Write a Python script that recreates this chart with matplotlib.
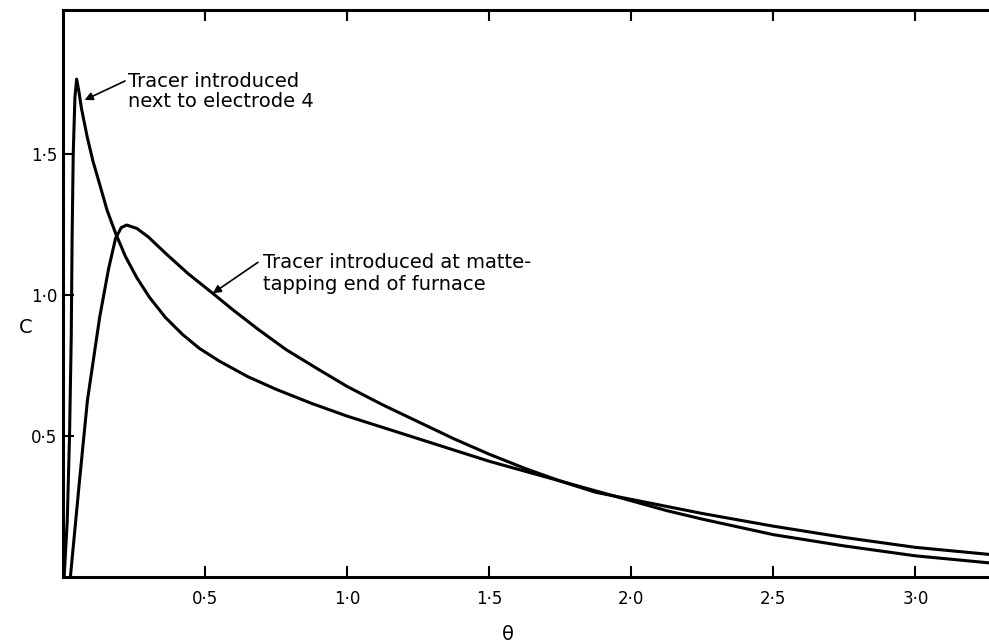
import matplotlib
matplotlib.use("Agg")
import matplotlib.pyplot as plt

# Curve: tracer introduced next to electrode 4
theta_e4 = [0.004, 0.015, 0.023, 0.029, 0.032, 0.036, 0.042, 0.048, 0.056, 0.065,
            0.085, 0.105, 0.128, 0.155, 0.185, 0.22, 0.26, 0.305, 0.36, 0.42,
            0.48, 0.55, 0.65, 0.75, 0.875, 1.0, 1.125, 1.25, 1.375, 1.5, 1.625,
            1.75, 1.875, 2.0, 2.125, 2.25, 2.5, 2.75, 3.0, 3.26]
c_e4 = [0.0, 0.20, 0.50, 0.85, 1.20, 1.50, 1.70, 1.764, 1.72, 1.66,
        1.56, 1.475, 1.395, 1.30, 1.218, 1.135, 1.06, 0.99, 0.92, 0.86,
        0.81, 0.765, 0.71, 0.665, 0.615, 0.57, 0.53, 0.49, 0.45, 0.41, 0.375,
        0.34, 0.305, 0.27, 0.235, 0.205, 0.15, 0.11, 0.075, 0.05]

# Curve: tracer introduced at matte-tapping end of furnace
theta_mt = [0.026, 0.058, 0.086, 0.129, 0.16, 0.185, 0.205, 0.224, 0.26, 0.30,
            0.363, 0.44, 0.527, 0.60, 0.69, 0.786, 0.9, 1.0, 1.125, 1.25,
            1.375, 1.5, 1.625, 1.75, 1.875, 2.0, 2.25, 2.5, 2.75, 3.0, 3.26]
c_mt = [0.0, 0.34, 0.626, 0.92, 1.09, 1.20, 1.238, 1.247, 1.235, 1.205,
        1.145, 1.075, 1.005, 0.945, 0.875, 0.805, 0.735, 0.675, 0.61, 0.55,
        0.49, 0.435, 0.385, 0.34, 0.30, 0.275, 0.225, 0.18, 0.14, 0.105, 0.08]

xticks = [0.5, 1.0, 1.5, 2.0, 2.5, 3.0]
xticklabels = ["0·5", "1·0", "1·5", "2·0", "2·5", "3·0"]
yticks = [0.5, 1.0, 1.5]
yticklabels = ["0·5", "1·0", "1·5"]

label_e4 = "Tracer introduced\nnext to electrode 4"
label_mt = "Tracer introduced at matte-\ntapping end of furnace"

W, H = 989, 644
fig = plt.figure(figsize=(W / 100, H / 100), dpi=100)
ax = fig.add_axes([63 / W, 1 - 577 / H, (W - 63) / W, (577 - 10) / H])

ax.plot(theta_e4, c_e4, color="black", lw=2.2, solid_joinstyle="round")
ax.plot(theta_mt, c_mt, color="black", lw=2.2, solid_joinstyle="round")

ax.set_xlim(0, (W - 63.5) / 284)
ax.set_ylim(0, (576.5 - 10) / 282)

for s in ["left", "bottom", "top"]:
    ax.spines[s].set_linewidth(2.2)
ax.spines["right"].set_visible(False)

ax.set_xticks(xticks)
ax.set_xticklabels(xticklabels, fontsize=12)
ax.set_yticks(yticks)
ax.set_yticklabels(yticklabels, fontsize=12)
ax.tick_params(axis="both", direction="in", length=8, width=1.5,
               top=True, right=False)
ax.tick_params(axis="x", pad=9)
ax.tick_params(axis="y", pad=4)

ax.set_xlabel("θ", fontsize=14)
ax.xaxis.set_label_coords((508 - 63) / (W - 63), -0.085)
ax.set_ylabel("C", fontsize=14, rotation=0, va="center")
ax.yaxis.set_label_coords(-0.04, 0.44)

ax.annotate(label_e4, xy=(0.076, 1.69), xytext=(0.228, 1.72),
            fontsize=14, ha="left", va="center", linespacing=1.1,
            arrowprops=dict(arrowstyle="-|>", color="black", lw=1.2,
                            shrinkA=0, shrinkB=0, mutation_scale=12,
                            relpos=(0.0, 0.8)))
ax.annotate(label_mt, xy=(0.527, 1.005), xytext=(0.705, 1.075),
            fontsize=14, ha="left", va="center", linespacing=1.15,
            arrowprops=dict(arrowstyle="-|>", color="black", lw=1.2,
                            shrinkA=0, shrinkB=0, mutation_scale=12,
                            relpos=(-0.02, 0.78)))

fig.savefig("out.png", dpi=100)
